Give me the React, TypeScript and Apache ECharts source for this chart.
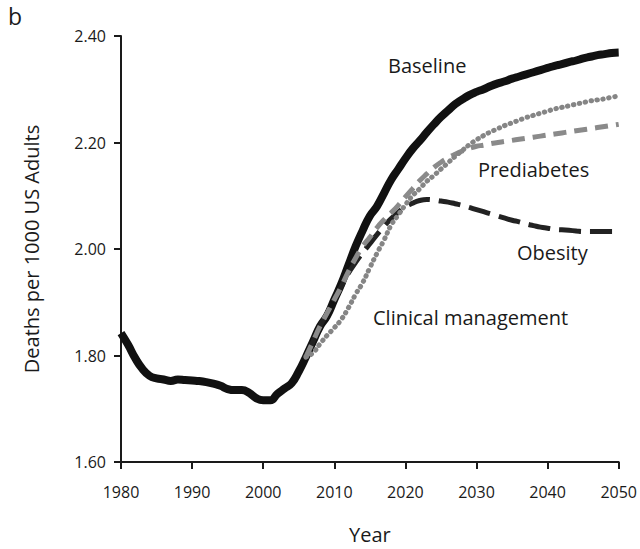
import React, { useEffect, useRef } from "react";
import * as echarts from "echarts";

const baselineYears = [
  1980, 1981, 1982, 1983, 1984, 1985, 1986, 1987, 1988, 1989,
  1990, 1991, 1992, 1993, 1994, 1995, 1996, 1997, 1998, 1999,
  2000, 2001, 2002, 2003, 2004, 2005, 2006, 2007, 2008, 2009,
  2010, 2011, 2012, 2013, 2014, 2015, 2016, 2017, 2018, 2019,
  2020, 2021, 2022, 2023, 2024, 2025, 2026, 2027, 2028, 2029,
  2030, 2031, 2032, 2033, 2034, 2035, 2036, 2037, 2038, 2039,
  2040, 2041, 2042, 2043, 2044, 2045, 2046, 2047, 2048, 2049, 2050,
];
const baseline = [
  1.842, 1.82, 1.795, 1.775, 1.762, 1.757, 1.755, 1.752, 1.755, 1.754,
  1.753, 1.752, 1.75, 1.747, 1.743, 1.737, 1.735, 1.735, 1.73, 1.72,
  1.716, 1.716, 1.728, 1.738, 1.748, 1.77, 1.797, 1.826, 1.855, 1.875,
  1.905, 1.935, 1.97, 2.005, 2.035, 2.062, 2.08, 2.105, 2.13, 2.15,
  2.17, 2.188, 2.203, 2.219, 2.234, 2.248, 2.26, 2.272, 2.281, 2.289,
  2.295, 2.3, 2.306, 2.311, 2.315, 2.32, 2.324, 2.328, 2.332, 2.336,
  2.34, 2.344, 2.347, 2.351, 2.354, 2.358, 2.361, 2.364, 2.366, 2.368, 2.369,
];

const scenarioYears = [
  2006, 2007, 2008, 2009, 2010, 2011, 2012, 2013, 2014, 2015,
  2016, 2017, 2018, 2019, 2020, 2021, 2022, 2023, 2024, 2025,
  2026, 2027, 2028, 2029, 2030, 2031, 2032, 2033, 2034, 2035,
  2036, 2037, 2038, 2039, 2040, 2041, 2042, 2043, 2044, 2045,
  2046, 2047, 2048, 2049, 2050,
];
const clinicalManagement = [
  1.797, 1.805, 1.822, 1.838, 1.852, 1.868, 1.89, 1.915, 1.937, 1.965,
  1.992, 2.017, 2.045, 2.064, 2.083, 2.1, 2.113, 2.127, 2.138, 2.15,
  2.162, 2.174, 2.185, 2.196, 2.205, 2.213, 2.22, 2.226, 2.232, 2.237,
  2.242, 2.247, 2.251, 2.255, 2.259, 2.263, 2.266, 2.269, 2.272, 2.275,
  2.278, 2.28, 2.282, 2.285, 2.287,
];
const prediabetes = [
  1.797, 1.826, 1.855, 1.88, 1.905, 1.93, 1.958, 1.983, 2.005, 2.022,
  2.04, 2.055, 2.068, 2.082, 2.098, 2.113, 2.128, 2.141, 2.153, 2.163,
  2.171, 2.178, 2.184, 2.189, 2.193, 2.195, 2.198, 2.2, 2.202, 2.204,
  2.206, 2.208, 2.21, 2.212, 2.214, 2.216, 2.218, 2.22, 2.222, 2.224,
  2.226, 2.228, 2.23, 2.232, 2.234,
];
const obesity = [
  1.797, 1.826, 1.855, 1.88, 1.905, 1.93, 1.955, 1.975, 1.993, 2.01,
  2.027, 2.043, 2.057, 2.069, 2.079, 2.086, 2.091, 2.093, 2.092, 2.09,
  2.088, 2.085, 2.082, 2.078, 2.074, 2.07, 2.066, 2.062, 2.058, 2.054,
  2.051, 2.047, 2.044, 2.041, 2.039, 2.037, 2.036, 2.035, 2.034, 2.033,
  2.033, 2.033, 2.033, 2.033, 2.033,
];

const FONT = "'Open Sans', 'Noto Sans', sans-serif";

function pairs(xs: number[], ys: number[]) {
  return xs.map((x, i) => [x, ys[i]]);
}

export default function App() {
  const ref = useRef<HTMLDivElement>(null);
  useEffect(() => {
    if (!ref.current) return;
    document.body.style.margin = "0";
    document.body.style.overflow = "hidden";
    const chart = echarts.init(ref.current, null, { renderer: "svg" });
    const textStyle = { fill: "#1a1a1a", fontSize: 20, fontFamily: FONT };
    chart.setOption({
      animation: false,
      backgroundColor: "#ffffff",
      grid: { left: 121, right: 17, top: 36, bottom: 84 },
      xAxis: {
        type: "value",
        min: 1980,
        max: 2050,
        interval: 10,
        name: "Year",
        nameLocation: "middle",
        nameGap: 62,
        nameTextStyle: { color: "#1a1a1a", fontSize: 20, fontFamily: FONT },
        axisLine: { lineStyle: { color: "#1a1a1a", width: 2 } },
        axisTick: { show: true, length: 7, lineStyle: { color: "#1a1a1a", width: 2 } },
        axisLabel: {
          color: "#1a1a1a",
          fontSize: 16,
          fontFamily: FONT,
          margin: 22,
          formatter: (v: number) => String(v),
        },
        splitLine: { show: false },
      },
      yAxis: {
        type: "value",
        min: 1.6,
        max: 2.4,
        interval: 0.2,
        name: "Deaths per 1000 US Adults",
        nameLocation: "middle",
        nameGap: 80,
        nameTextStyle: { color: "#1a1a1a", fontSize: 20, fontFamily: FONT },
        axisLine: { show: true, lineStyle: { color: "#1a1a1a", width: 2 } },
        axisTick: { show: true, length: 7, lineStyle: { color: "#1a1a1a", width: 2 } },
        axisLabel: {
          color: "#1a1a1a",
          fontSize: 16,
          fontFamily: FONT,
          margin: 15,
          formatter: (v: number) => v.toFixed(2),
        },
        splitLine: { show: false },
      },
      series: [
        {
          name: "Obesity",
          type: "line",
          data: pairs(scenarioYears, obesity),
          showSymbol: false,
          smooth: true,
          lineStyle: { color: "#222222", width: 5, type: [22, 9] },
          z: 3,
        },
        {
          name: "Prediabetes",
          type: "line",
          data: pairs(scenarioYears, prediabetes),
          showSymbol: false,
          smooth: true,
          lineStyle: { color: "#8a8a8a", width: 5, type: [13, 8] },
          z: 4,
        },
        {
          name: "Clinical management",
          type: "line",
          data: pairs(scenarioYears, clinicalManagement),
          showSymbol: false,
          smooth: true,
          lineStyle: { color: "#858585", width: 5, type: [0.5, 5.5], cap: "round" },
          z: 5,
        },
        {
          name: "Baseline",
          type: "line",
          data: pairs(baselineYears, baseline),
          showSymbol: false,
          smooth: true,
          lineStyle: { color: "#111111", width: 8 },
          z: 2,
        },
      ],
      graphic: [
        { type: "text", left: 8, top: 4, style: { text: "b", fill: "#1a1a1a", fontSize: 23, fontFamily: FONT } },
        { type: "text", left: 388, top: 55, style: { text: "Baseline", ...textStyle } },
        { type: "text", left: 478, top: 159, style: { text: "Prediabetes", ...textStyle } },
        { type: "text", left: 517, top: 242, style: { text: "Obesity", ...textStyle } },
        { type: "text", left: 373, top: 307, style: { text: "Clinical management", ...textStyle } },
      ],
    });
    return () => chart.dispose();
  }, []);
  return (
    <div
      ref={ref}
      style={{ position: "fixed", left: 0, top: 0, width: 640, height: 549 }}
    />
  );
}
